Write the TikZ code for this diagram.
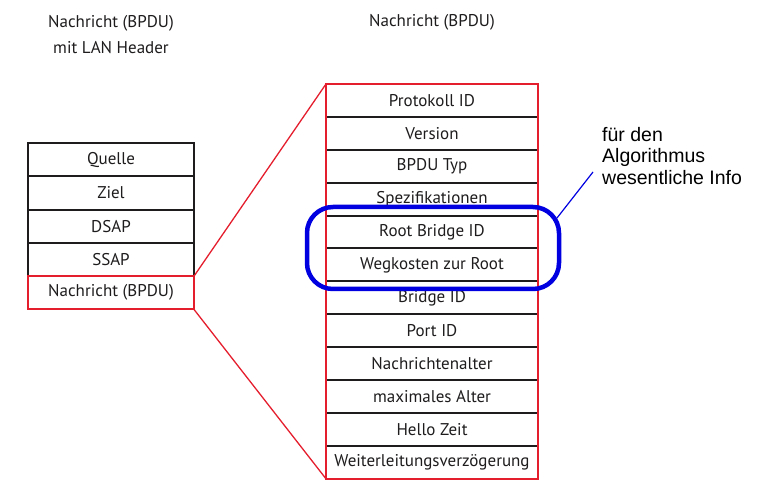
\documentclass[tikz,border=0pt]{standalone}
\usepackage{fontspec}
\setmainfont{PT Sans}
\newfontfamily\calloutfont{Liberation Sans}
\usetikzlibrary{positioning}

\definecolor{framered}{RGB}{228,30,45}
\definecolor{markblue}{RGB}{0,0,225}
\definecolor{textgray}{RGB}{30,28,28}

\begin{document}
\begin{tikzpicture}[x=1pt,y=-1pt,line join=miter,
        cell/.style={draw=textgray,line width=2pt,minimum height=33.3pt,
                     minimum width=166pt,inner sep=0pt,outer sep=0pt,text=textgray,
                     font=\fontsize{17}{19}\selectfont},
        rcell/.style={cell,minimum height=32.9pt,minimum width=212pt},
        title/.style={align=center,text=textgray,font=\fontsize{17}{26}\selectfont}]
        % fix the page size
        \useasboundingbox (0,0) rectangle (763,486);

        % titles
        \node[title] (lefttitle) at (111,35) {Nachricht (BPDU)\\mit LAN Header};
        \node[title] (righttitle) at (432,22) {Nachricht (BPDU)};

        % frame with LAN header
        \node[cell] (quelle) at (111,159.6) {Quelle};
        \node[cell,below=0pt of quelle] (ziel) {Ziel};
        \node[cell,below=0pt of ziel] (dsap) {DSAP};
        \node[cell,below=0pt of dsap] (ssap) {SSAP};
        \node[cell,below=0pt of ssap,draw=framered] (nachricht) {Nachricht (BPDU)};

        % fields of the BPDU
        \foreach \name/\field [count=\i] in {
            protokoll/Protokoll ID,
            version/Version,
            typ/BPDU Typ,
            spez/Spezifikationen,
            rootid/Root Bridge ID,
            wegkosten/Wegkosten zur Root,
            bridgeid/Bridge ID,
            portid/Port ID,
            alter/Nachrichtenalter,
            maxalter/maximales Alter,
            hello/Hello Zeit,
            weiter/Weiterleitungsverzögerung}
                \node[rcell] (\name) at (432,{84+16.45+(\i-1)*32.9}) {\field};

        % red outline and zoom lines
        \draw[framered,line width=2pt] (protokoll.north west) rectangle (weiter.south east);
        \draw[framered,line width=1.3pt] (nachricht.north east) -- (protokoll.north west);
        \draw[framered,line width=1.3pt] (nachricht.south east) -- (weiter.south west);

        % mark the essential fields
        \draw[markblue,line width=4.5pt,rounded corners=26pt] (307,207) rectangle (559,289);
        \coordinate (markend) at (557,218);
        \node[anchor=north west,align=left,inner sep=0pt,
              font=\calloutfont\fontsize{19.5}{21.5}\selectfont] (info) at (602,127)
              {für den\\Algorithmus\\wesentliche Info};
        \draw[markblue,line width=1.2pt] (markend) -- (593,172);
\end{tikzpicture}
\end{document}
